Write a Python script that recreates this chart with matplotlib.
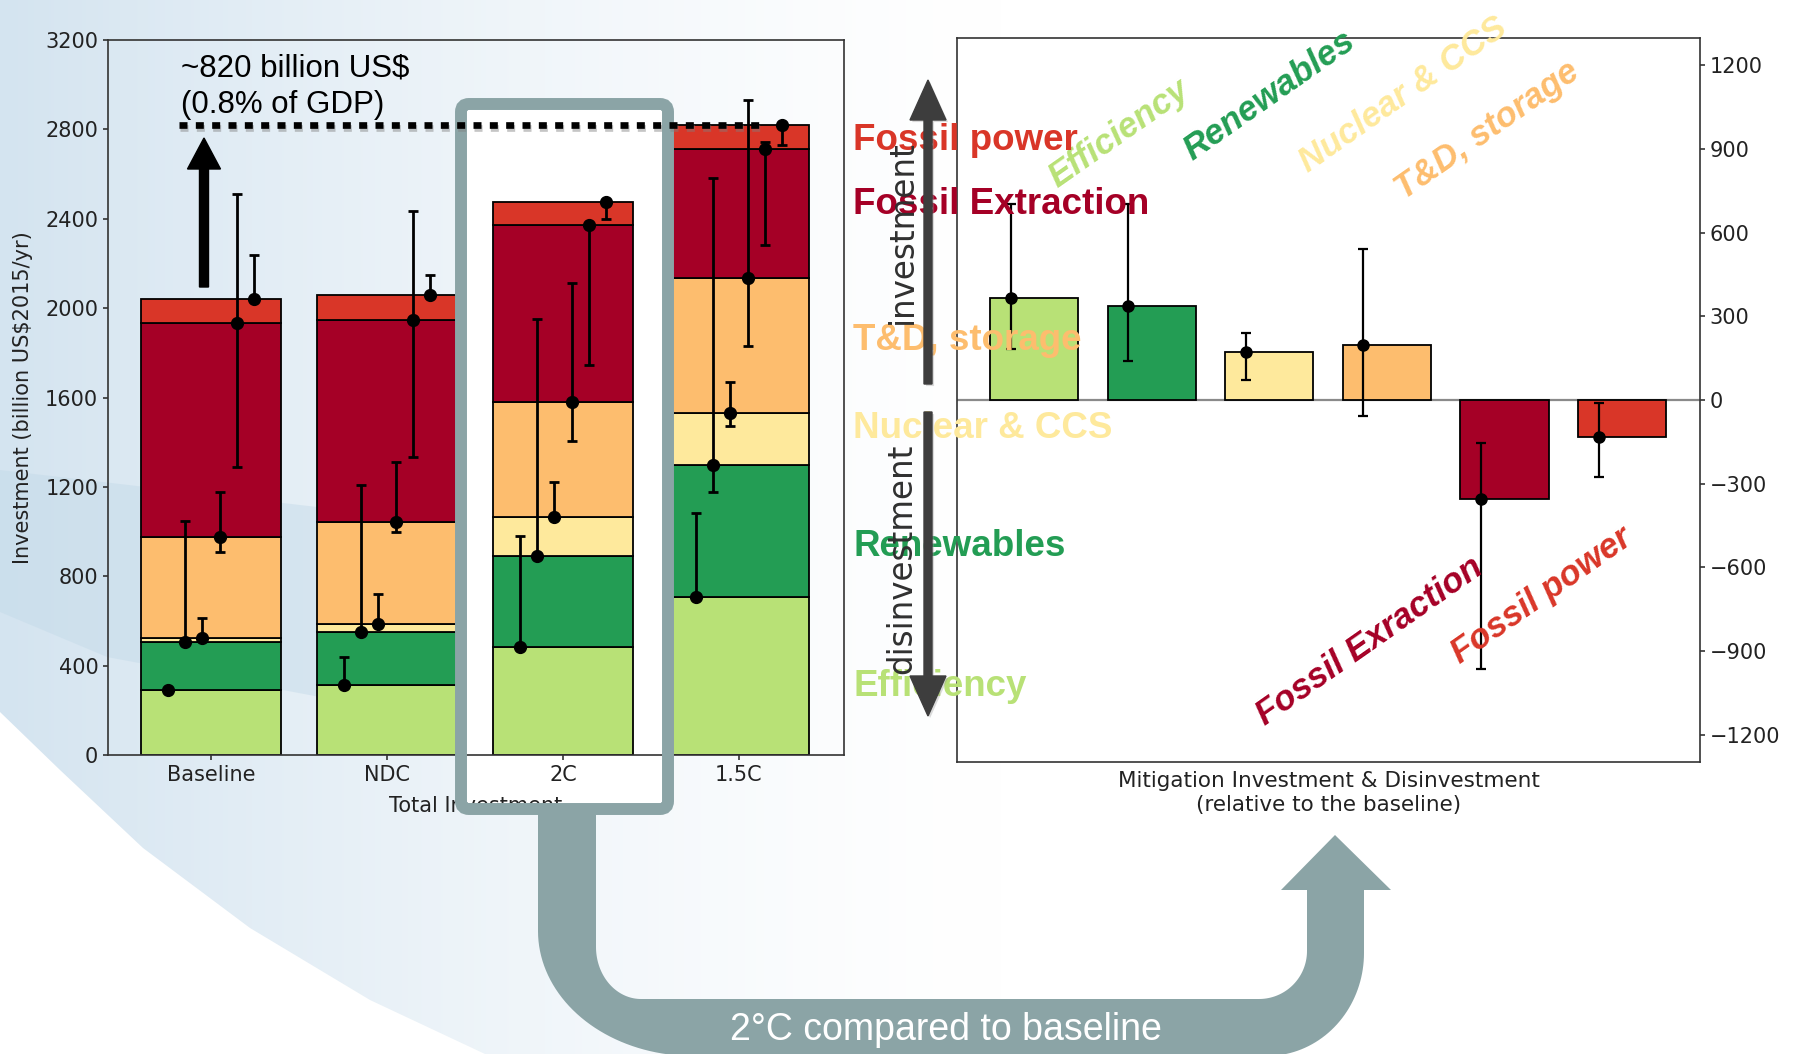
import numpy as np
import matplotlib
matplotlib.use('Agg')
import matplotlib.pyplot as plt
from matplotlib.patches import Polygon, FancyBboxPatch, FancyArrow, Rectangle
import matplotlib.patheffects as pe

# ------------------------------------------------------------------ data
scenarios = ['Baseline', 'NDC', '2C', '1.5C']
sectors = ['Efficiency', 'Renewables', 'Nuclear & CCS', 'T&D, storage',
           'Fossil Extraction', 'Fossil power']
sector_colors = ['#b8e176', '#239d54', '#fee99c', '#fdbd6e', '#a50026', '#d93628']

# stacked investment (billion US$2015/yr)
efficiency = [291, 313, 485, 706]
renewables = [215, 238, 405, 590]
nuclear_ccs = [18, 34, 177, 235]
td_storage = [450, 456, 515, 604]
fossil_extraction = [960, 906, 789, 575]
fossil_power = [108, 112, 104, 110]

# model ranges on the cumulative stack (low / high)
eff_low = [291, 313, 485, 706]
eff_high = [291, 437, 979, 1082]
ren_low = [495, 540, 880, 1179]
ren_high = [1049, 1210, 1952, 2584]
nuc_low = [515, 578, 1058, 1472]
nuc_high = [611, 722, 1222, 1671]
td_low = [909, 996, 1406, 1832]
td_high = [1178, 1311, 2111, 2932]
fe_low = [1289, 1333, 1746, 2282]
fe_high = [2513, 2433, 2375, 2745]
fp_low = [2030, 2050, 2399, 2732]
fp_high = [2237, 2149, 2480, 2830]

# 2C relative to baseline
change_labels = ['Efficiency', 'Renewables', 'Nuclear & CCS', 'T&D, storage',
                 'Fossil Exraction', 'Fossil power']
change_values = [366, 336, 173, 198, -356, -131]
change_low = [184, 138, 72, -59, -965, -276]
change_high = [703, 703, 240, 541, -154, -12]

side_labels = ['Fossil power', 'Fossil Extraction', 'T&D, storage',
               'Nuclear & CCS', 'Renewables', 'Efficiency']
side_colors = ['#d93628', '#a50026', '#fdbd6e', '#fee99c', '#239d54', '#b8e176']

gdp_note = '~820 billion US$\n(0.8% of GDP)'
comparison_text = '2°C compared to baseline'

# ------------------------------------------------------------------ figure
W, H = 1796, 1054
fig = plt.figure(figsize=(W / 100, H / 100), dpi=100)
fig.patch.set_facecolor('white')
SANS = ['Liberation Sans', 'DejaVu Sans']

# background (slide decoration)
bg = fig.add_axes([0, 0, 1, 1], zorder=-5)
yy, xx = np.mgrid[0:H:2, 0:W:2]
t = np.clip(1 - xx / 1000.0, 0, 1) ** 1.4
blue = np.array([212, 228, 240]) / 255.0
img = (1 - t[..., None]) * np.ones(3) + t[..., None] * blue
bg.imshow(img, extent=(0, W, H, 0), aspect='auto', zorder=0, interpolation='bilinear')
band = Polygon([(0, 470), (300, 505), (600, 540), (800, 575), (800, 640),
                (460, 700), (320, 697), (107, 657), (0, 612)],
               closed=True, facecolor=(0.76, 0.85, 0.91), edgecolor='none',
               alpha=0.45, zorder=1)
bg.add_patch(band)
corner = Polygon([(0, 712), (60, 770), (143, 848), (250, 928), (370, 1000),
                  (485, 1054), (0, 1054)], closed=True, facecolor='white',
                 edgecolor='none', zorder=2)
bg.add_patch(corner)
bg.add_patch(Rectangle((467, 110), 195, 693, facecolor='white', edgecolor='none', zorder=3))
bg.set_xlim(0, W)
bg.set_ylim(H, 0)
bg.axis('off')

# ------------------------------------------------------------------ left: stacked bars
axL = fig.add_axes([108 / W, 1 - 755 / H, 736 / W, 715 / H])
axL.set_facecolor('none')
stack = np.array([efficiency, renewables, nuclear_ccs, td_storage,
                  fossil_extraction, fossil_power], dtype=float)
lows = np.array([eff_low, ren_low, nuc_low, td_low, fe_low, fp_low], dtype=float)
highs = np.array([eff_high, ren_high, nuc_high, td_high, fe_high, fp_high], dtype=float)
tops = np.cumsum(stack, axis=0)
bottoms = tops - stack
xs = np.arange(len(scenarios))
for i in range(len(sectors)):
    axL.bar(xs, stack[i], 0.8, bottom=bottoms[i], color=sector_colors[i],
            edgecolor='black', linewidth=1.3, zorder=2)
offsets = -0.245 + 0.098 * np.arange(len(sectors))
for i in range(len(sectors)):
    lo = np.clip(tops[i] - lows[i], 0, None)
    hi = np.clip(highs[i] - tops[i], 0, None)
    axL.errorbar(xs + offsets[i], tops[i], yerr=[lo, hi], fmt='o', color='black',
                 ms=8.5, elinewidth=2.0, capsize=3.5, capthick=2.0, zorder=3)
axL.set_xlim(-0.585, 3.597)
axL.set_ylim(0, 3200)
axL.set_yticks(np.arange(0, 3201, 400))
axL.set_xticks(xs)
axL.set_xticklabels(scenarios)
axL.tick_params(labelsize=15, colors='#222222', width=1.1)
for s in axL.spines.values():
    s.set_color('#333333')
    s.set_linewidth(1.2)
axL.set_ylabel('Investment (billion US$2015/yr)', fontsize=15, color='#222222')
axL.yaxis.set_label_coords(-0.102, 0.5)
axL.set_xlabel('Total Investment', fontsize=15, color='#222222')
axL.xaxis.set_label_coords(0.499, -0.058)

# ------------------------------------------------------------------ right: change vs baseline
axR = fig.add_axes([957 / W, 1 - 762 / H, 743 / W, 724 / H])
axR.set_facecolor('white')
xr = np.arange(len(change_values))
cv = np.array(change_values, dtype=float)
axR.bar(xr, cv, 0.75, color=sector_colors, edgecolor='black', linewidth=1.3, zorder=2)
axR.errorbar(xr - 0.2, cv, yerr=[cv - np.array(change_low), np.array(change_high) - cv],
             fmt='o', color='black', ms=8, elinewidth=1.6, capsize=3.5, capthick=1.6,
             zorder=3)
axR.axhline(0, color='#8a8a8a', lw=1.6, zorder=1)
axR.set_xlim(-0.655, 5.663)
axR.set_ylim(-1297, 1297)
axR.set_xticks([])
axR.yaxis.tick_right()
axR.set_yticks(np.arange(-1200, 1201, 300))
axR.tick_params(labelsize=15, colors='#222222', width=1.1)
for s in axR.spines.values():
    s.set_color('#333333')
    s.set_linewidth(1.2)
axR.set_xlabel('Mitigation Investment & Disinvestment\n(relative to the baseline)',
               fontsize=15.5, color='#222222', linespacing=1.25)
axR.xaxis.set_label_coords(0.5, -0.012)

rot_pos = [(0.72, 953), (2.00, 1092), (3.14, 1092), (3.85, 967), (2.85, -863), (4.32, -702)]
for lab, col, (px, py) in zip(change_labels, sector_colors, rot_pos):
    axR.text(px, py, lab, rotation=35, rotation_mode='anchor', ha='center', va='center',
             fontsize=25, fontweight='bold', fontstyle='italic', color=col,
             family=SANS, clip_on=False, zorder=5)

# ------------------------------------------------------------------ overlay decorations
ov = fig.add_axes([0, 0, 1, 1], zorder=5)
ov.set_facecolor('none')
ov.set_xlim(0, W)
ov.set_ylim(H, 0)
ov.axis('off')

teal = '#8ba4a6'


def arc(cx, cy, rx, ry, t0, t1, n=40):
    tt = np.linspace(t0, t1, n)
    return [(cx + rx * np.cos(a), cy + ry * np.sin(a)) for a in tt]


pts = [(538, 805), (538, 931)]
pts += arc(693, 931, 155, 125, np.pi, np.pi / 2)
pts += arc(1267, 953, 97, 103, np.pi / 2, 0)
pts += [(1364, 890), (1391, 890), (1335, 835), (1281, 890), (1307, 890)]
pts += arc(1259, 951, 48, 48, 0, np.pi / 2)
pts += arc(641, 947, 45, 52, np.pi / 2, np.pi)
pts += [(596, 805)]
ov.add_patch(Polygon(pts, closed=True, facecolor=teal, edgecolor='none', zorder=1))
ov.text(946, 1040, comparison_text, ha='center', va='baseline', fontsize=27,
        color='white', family=SANS, zorder=2)

# highlight frame around 2C
ov.add_patch(FancyBboxPatch((461, 104), 207, 705, boxstyle='round,pad=0,rounding_size=8',
                            fill=False, edgecolor=teal, lw=8.6, zorder=2))

# dotted 1.5C level line
ov.plot([-0.182, 3.14], [tops[-1][-1], tops[-1][-1]], transform=axL.transData,
        color='black', lw=4.8, linestyle=(0, (1.2, 1.25)), dash_capstyle='butt',
        zorder=3,
        path_effects=[pe.SimpleLineShadow(offset=(0.5, -2.5), shadow_color='#7f7f7f', alpha=0.45),
                      pe.Normal()])
ov.text(181, 87, gdp_note, ha='left', va='center', fontsize=22.5, family=SANS,
        color='black', linespacing=1.3, zorder=3)
ov.add_patch(FancyArrow(204, 287, 0, -149, width=9, head_width=33, head_length=31,
                        length_includes_head=True, color='black', zorder=3))

# side labels
side_y = [137, 200, 336, 425, 542, 683]
for lab, col, yv in zip(side_labels, side_colors, side_y):
    ov.text(853, yv, lab, ha='left', va='center_baseline', fontsize=26.5,
            fontweight='bold', color=col, family=SANS, zorder=4)

# investment / disinvestment arrows
ov.text(902, 232, 'investment', rotation=90, ha='center', va='center', fontsize=23.5,
        color='#303030', zorder=5)
ov.text(902, 559, 'disinvestment', rotation=90, ha='center', va='center', fontsize=23.5,
        color='#303030', zorder=5)
shadow = [pe.SimplePatchShadow(offset=(1.5, -1.5), shadow_rgbFace='#999999', alpha=0.35),
          pe.Normal()]
ov.add_patch(FancyArrow(928, 384, 0, -304, width=8, head_width=36, head_length=40,
                        length_includes_head=True, color='#3d3d3d', zorder=6,
                        path_effects=shadow))
ov.add_patch(FancyArrow(928, 412, 0, 304, width=8, head_width=36, head_length=40,
                        length_includes_head=True, color='#3d3d3d', zorder=6,
                        path_effects=shadow))

fig.savefig('out.png', dpi=100)
